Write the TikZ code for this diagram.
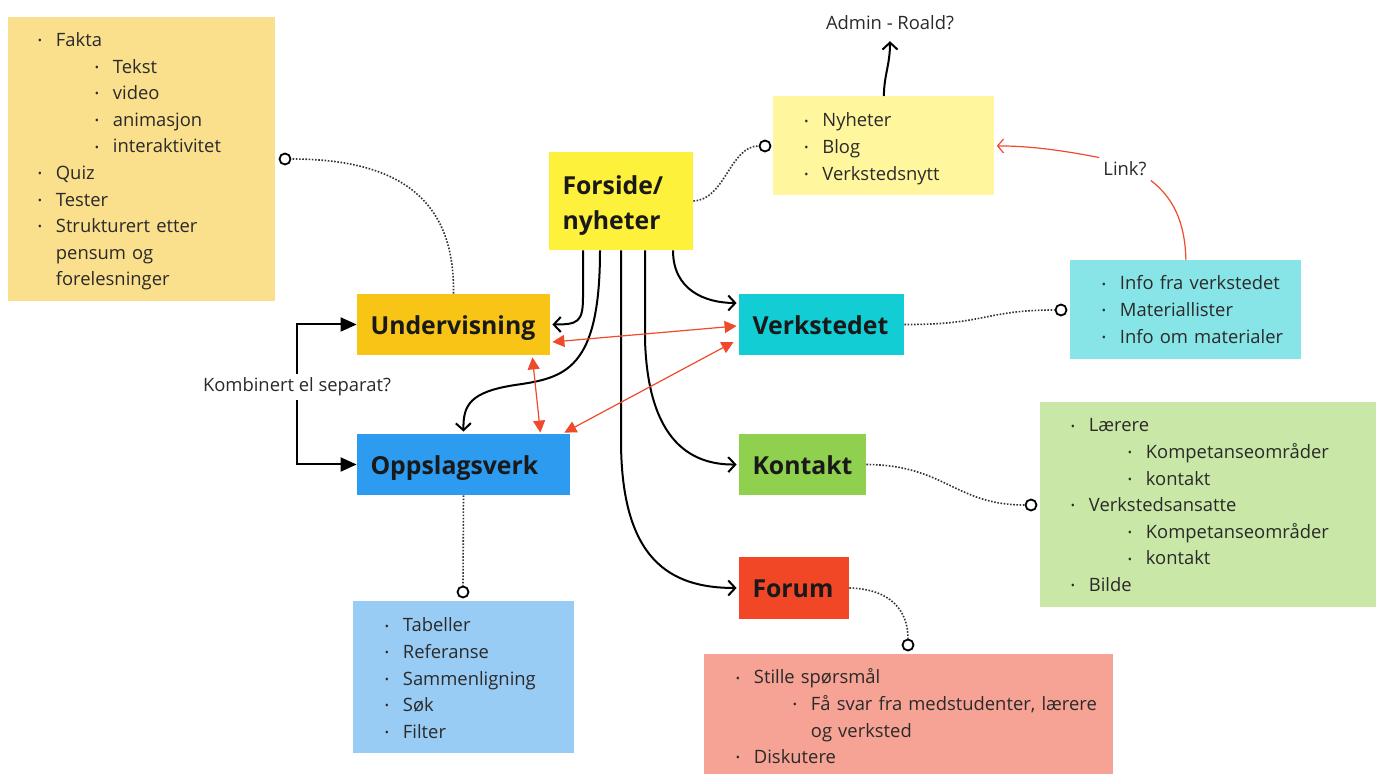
\documentclass[tikz,border=0pt]{standalone}
\usepackage{fontspec}
\setmainfont{Open Sans}
\usetikzlibrary{arrows.meta,calc}
\definecolor{tlfill}{HTML}{FADF8C}
\definecolor{forsidefill}{HTML}{FEF13B}
\definecolor{nyfill}{HTML}{FFF69E}
\definecolor{undfill}{HTML}{F8C516}
\definecolor{verkfill}{HTML}{13CDD4}
\definecolor{oppsfill}{HTML}{2D9BF0}
\definecolor{kontfill}{HTML}{8FD14F}
\definecolor{forumfill}{HTML}{F24726}
\definecolor{infofill}{HTML}{88E5E7}
\definecolor{greenfill}{HTML}{C9E7A6}
\definecolor{lbluefill}{HTML}{99CCF5}
\definecolor{salmonfill}{HTML}{F6A294}
\definecolor{redc}{HTML}{EF4A2B}
\definecolor{dotgray}{HTML}{333333}
\definecolor{txt}{HTML}{2A2A2A}
\newcommand{\bul}{\raisebox{0.9pt}{\fontsize{5.5}{6}\selectfont •}}
\newcommand{\Li}[1]{\makebox[9pt][l]{\bul}#1}
\newcommand{\Lii}[1]{\hspace*{28.5pt}\makebox[9pt][l]{\bul}#1}
\newcommand{\Lc}[1]{\hspace*{9pt}#1}
\newcommand{\Lcc}[1]{\hspace*{37.5pt}#1}
\begin{document}
\begin{tikzpicture}[x=0.5pt,y=-0.5pt,
  mainbox/.style={rectangle, align=left, inner xsep=6.75pt, inner ysep=0pt,
     font=\fontsize{12.4}{17.5}\selectfont\bfseries, text=black!90, anchor=center, minimum height=30.5pt},
  onebox/.style={mainbox, text height=11pt, text depth=1pt},
  listbox/.style={rectangle, anchor=north west, inner sep=0pt, draw=none},
  listtext/.style={anchor=base west, inner sep=0pt, text width=200pt, align=left,
     font=\fontsize{9.2}{13.3}\selectfont, text=txt},
  plain/.style={font=\fontsize{9.2}{13.3}\selectfont, text=txt},
  endcirc/.style={circle, draw=black, fill=white, line width=0.9pt, inner sep=0pt, minimum size=5.5pt},
  dotline/.style={draw=dotgray, line width=0.8pt, dash pattern=on 0.8pt off 0.8pt},
  blackarr/.style={draw=black, line width=1pt, -{Straight Barb[length=3.5pt,width=7.5pt]}},
  redarr/.style={draw=redc, line width=0.6pt, {Triangle[length=6pt,width=6pt]}-{Triangle[length=6pt,width=6pt]}},
  redthin/.style={draw=redc, line width=0.6pt}
]
\useasboundingbox (0,0) rectangle (1382,774);
\fill[white] (0,0) rectangle (1382,774);

% list boxes
\node[listbox, fill=tlfill, minimum width=133.5pt, minimum height=142pt] (tlbox) at (8,17) {};
\node[listbox, fill=nyfill, minimum width=110.5pt, minimum height=49.5pt] (nybox) at (773,96) {};
\node[listbox, fill=infofill, minimum width=115.5pt, minimum height=49.5pt] (infobox) at (1070,260) {};
\node[listbox, fill=greenfill, minimum width=168pt, minimum height=102.5pt] (greenbox) at (1040,402) {};
\node[listbox, fill=lbluefill, minimum width=110.5pt, minimum height=76pt] (bluebox) at (353,601) {};
\node[listbox, fill=salmonfill, minimum width=204.5pt, minimum height=60pt] (salmonbox) at (704,654) {};

% list texts
\node[listtext] (tlt) at (37.5,46.5) {\Li{Fakta}\\\Lii{Tekst}\\\Lii{video}\\\Lii{animasjon}\\\Lii{interaktivitet}\\\Li{Quiz}\\\Li{Tester}\\\Li{Strukturert etter}\\\Lc{pensum og}\\\Lc{forelesninger}};
\node[listtext] (nyt) at (804,127) {\Li{Nyheter}\\\Li{Blog}\\\Li{Verkstedsnytt}};
\node[listtext] (infot) at (1101.5,290) {\Li{Info fra verkstedet}\\\Li{Materiallister}\\\Li{Info om materialer}};
\node[listtext] (greent) at (1070.5,432) {\Li{Lærere}\\\Lii{Kompetanseområder}\\\Lii{kontakt}\\\Li{Verkstedsansatte}\\\Lii{Kompetanseområder}\\\Lii{kontakt}\\\Li{Bilde}};
\node[listtext] (bluet) at (384.5,632) {\Li{Tabeller}\\\Li{Referanse}\\\Li{Sammenligning}\\\Li{Søk}\\\Li{Filter}};
\node[listtext] (salmont) at (735.5,684) {\Li{Stille spørsmål}\\\Lii{Få svar fra medstudenter, lærere}\\\Lcc{og verksted}\\\Li{Diskutere}};

% main boxes
\node[mainbox, fill=forsidefill, text width=58.5pt, minimum height=49pt] (forside) at (621,201) {\rule{0pt}{14pt}Forside/\\nyheter};
\node[onebox, fill=undfill, text width=83pt] (underv) at (453.5,324.5) {Undervisning};
\node[onebox, fill=verkfill, text width=69pt] (verk) at (821.5,324.5) {Verkstedet};
\node[onebox, fill=oppsfill, text width=93pt] (opps) at (463.5,464.5) {Oppslagsverk};
\node[onebox, fill=kontfill, text width=50pt] (kontakt) at (802.5,464.5) {Kontakt};
\node[onebox, fill=forumfill, text width=41.5pt, minimum height=31pt] (forum) at (794,588) {Forum};

% end circles
\node[endcirc] (c1) at (285,159) {};
\node[endcirc] (c2) at (765,146) {};
\node[endcirc] (c3) at (1061,310) {};
\node[endcirc] (c4) at (1031,505) {};
\node[endcirc] (c5) at (463,592) {};
\node[endcirc] (c6) at (908,645) {};

% dotted connectors
\draw[dotline] (underv.north) .. controls (455,200) and (400,159) .. (c1.east);
\draw[dotline] (forside.east) .. controls (725,200) and (730,146) .. (c2.west);
\draw[dotline] (verk.east) .. controls (985,325) and (985,310) .. (c3.west);
\draw[dotline] (kontakt.east) .. controls (945,465) and (955,505) .. (c4.west);
\draw[dotline] (opps.south) -- (c5.north);
\draw[dotline] (forum.east) .. controls (890,589) and (908,610) .. (c6.north);

% black arrows from Forside
\draw[blackarr] ($(forside.south)+(-38,0)$) -- ++(0,47) .. controls +(0,25) and +(25,0) .. ($(underv.east)+(2,0)$);
\draw[blackarr] ($(forside.south)+(-21,0)$) .. controls (600,370) and (565,378) .. (515,385) .. controls (470,392) and (463,405) .. ($(opps.north)+(0,-2)$);
\draw[blackarr] ($(forside.south)+(0,0)$) -- (621,440) .. controls (621,560) and (670,588) .. ($(forum.west)+(-2,0)$);
\draw[blackarr] ($(forside.south)+(24,0)$) -- (645,340) .. controls (648,440) and (690,465) .. ($(kontakt.west)+(-2,0)$);
\draw[blackarr] ($(forside.south)+(52,0)$) .. controls (673,290) and (705,303) .. ($(verk.west)+(-2,-21.5)$);

% red double arrows
\draw[redarr] ($(underv.east)+(2,17.5)$) -- ($(verk.west)+(-2,1.5)$);
\draw[redarr] ($(underv.south east)+(-18,2)$) -- ($(opps.north east)+(-30,-1)$);
\draw[redarr] ($(opps.north east)+(-6,-1)$) -- ($(verk.west)+(-5,17.5)$);

% Link?
\node[plain, inner sep=2pt] (link) at (1125,169) {Link?};
\draw[redthin] (infobox.north) .. controls (1185,220) and (1172,197) .. (link.south east);
\draw[redthin, -{Straight Barb[length=3pt,width=7pt]}] (link.north west) .. controls (1060,150) and (1030,146) .. ($(nybox.east)+(2,0)$);

% Admin
\node[plain] (admin) at (890,23) {Admin - Roald?};
\draw[blackarr] (nybox.north) .. controls (884,75) and (890,65) .. ($(admin.south)+(0,4)$);

% Kombinert
\draw[line width=1pt, {Triangle[length=8pt,width=7pt]}-{Triangle[length=8pt,width=7pt]}] (underv.west) -- ++(-60,0) |- (opps.west);
\node[plain, fill=white, inner sep=2pt] (komb) at (297,387) {Kombinert el separat?};
\end{tikzpicture}
\end{document}
